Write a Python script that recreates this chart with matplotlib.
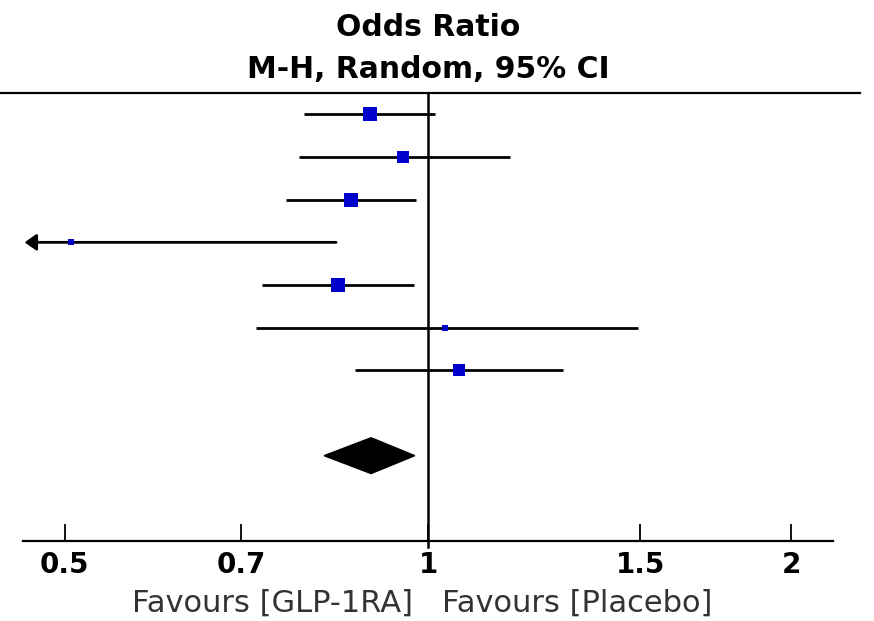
import numpy as np
import matplotlib.pyplot as plt
from matplotlib.lines import Line2D

plt.switch_backend('agg')

# study rows: odds ratio, 95% CI, weight (%)
odds = [0.895, 0.953, 0.863, 0.506, 0.842, 1.033, 1.061]
ci_low = [0.789, 0.782, 0.763, 0.30, 0.728, 0.720, 0.870]
ci_high = [1.013, 1.170, 0.977, 0.839, 0.974, 1.493, 1.294]
weights = [23.4, 14.5, 20.2, 3.0, 20.2, 4.3, 14.5]

# pooled estimate
pooled = 0.897
pooled_low = 0.820
pooled_high = 0.975

ticks = [0.5, 0.7, 1, 1.5, 2]
tick_labels = ['0.5', '0.7', '1', '1.5', '2']

W, H = 874, 621
fig = plt.figure(figsize=(W / 100, H / 100), dpi=100)
ax = fig.add_axes([23 / W, (H - 541) / H, 810 / W, (541 - 93) / H])

ax.set_xscale('log')
xmin, xmax = 0.4616, 2.166
ax.set_xlim(xmin, xmax)
ax.set_ylim(11, 0.5)

for s in ['left', 'right', 'top']:
    ax.spines[s].set_visible(False)
ax.spines['bottom'].set_linewidth(1.6)
ax.set_yticks([])
ax.set_xticks(ticks)
ax.set_xticklabels(tick_labels, fontsize=20, fontweight='bold')
ax.xaxis.set_minor_locator(plt.NullLocator())
ax.tick_params(axis='x', direction='in', length=12, width=1.3, pad=7)

# line of no effect
ax.plot([1, 1], [0.5, 11.15], color='black', lw=1.8, clip_on=False, zorder=2)

rows = np.arange(1, len(odds) + 1)
for y, o, lo, hi, w in zip(rows, odds, ci_low, ci_high, weights):
    if lo < xmin:
        # interval runs off the scale: arrow to the edge
        ax.annotate('', xy=(xmin * 1.003, y), xytext=(hi, y),
                    arrowprops=dict(arrowstyle='-|>,head_length=0.5,head_width=0.35',
                                    mutation_scale=14, color='black', lw=2,
                                    shrinkA=0, shrinkB=0))
    else:
        ax.plot([lo, hi], [y, y], color='black', lw=2, solid_capstyle='butt', zorder=3)
    side = 2.9 * np.sqrt(w) * 0.72
    ax.scatter([o], [y], marker='s', s=side ** 2, color='#0000cc', linewidths=0, zorder=4)

# pooled diamond
yd = 9
ax.fill([pooled_low, pooled, pooled_high, pooled], [yd, yd - 0.42, yd, yd + 0.42],
        color='black', zorder=4)

# header rule across the top
fig.add_artist(Line2D([0, 860 / W], [(H - 93) / H] * 2, color='black', lw=1.6))

fig.text(428 / W, 1 - 28 / H, 'Odds Ratio', ha='center', va='center',
         fontsize=21.5, fontweight='bold')
fig.text(428 / W, 1 - 70 / H, 'M-H, Random, 95% CI', ha='center', va='center',
         fontsize=21.5, fontweight='bold')

fig.text(413 / W, 1 - 603 / H, 'Favours [GLP-1RA]', ha='right', va='center',
         fontsize=22, color='#333333')
fig.text(442 / W, 1 - 603 / H, 'Favours [Placebo]', ha='left', va='center',
         fontsize=22, color='#333333')

fig.savefig('out.png', dpi=100)
